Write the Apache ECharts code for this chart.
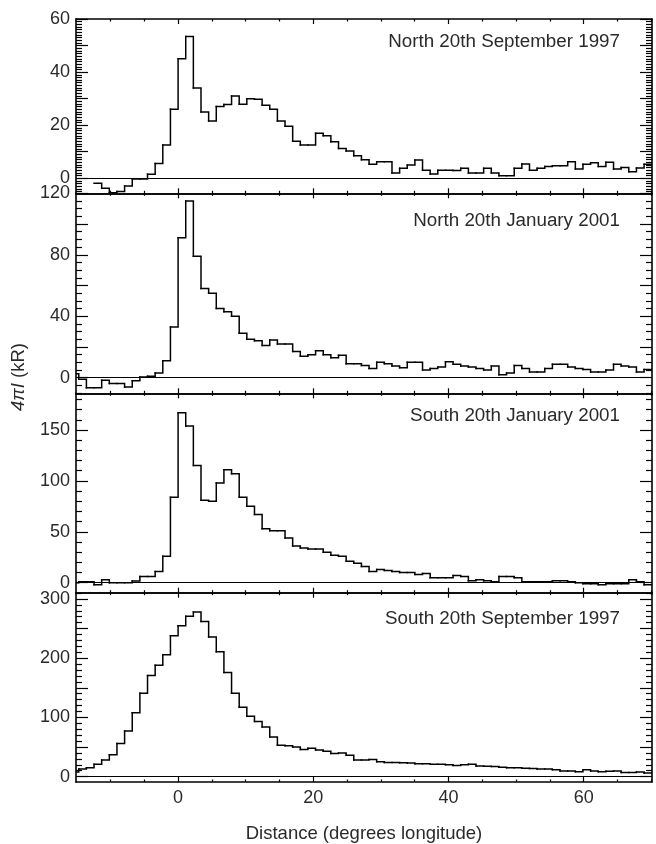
<!DOCTYPE html>
<html><head><meta charset="utf-8">
<script src="https://cdn.jsdelivr.net/npm/echarts@6/dist/echarts.min.js"></script>
<style>html,body{margin:0;padding:0;background:#fff}#c{width:656px;height:844px}</style>
</head><body><div id="c"></div>
<script>
// ---- data ----
const binWidth = 1.13;          // degrees longitude per bin
const firstBin = -14;           // index of the first bin (left edge = firstBin*binWidth)
const panelTitles = ['North 20th September 1997','North 20th January 2001','South 20th January 2001','South 20th September 1997'];
const xTickLabels = [0, 20, 40, 60];
const xMinorTicks = [-10, -5, 5, 10, 15, 25, 30, 35, 45, 50, 55, 65, 70];
const yTickLabels = [[0, 20, 40, 60], [0, 40, 80, 120], [0, 50, 100, 150], [0, 100, 200, 300]];
const yMajorStep = [10, 20, 50, 50];
const yMinorStep = [1, 5, 10, 10];
const yMin = [-5.65, -10.15, -9.8, -9];
const yMax = [60, 120, 186, 310.6];

const northSep1997 = [null, null, null, -1.9, -3.75, -5.4, -5, -2.9, -0.25, -0.25, 1.5, 5.6, 12.5, 26,
  45, 53.4, 34, 25, 21.6, 27, 27.75, 31, 27.9, 30, 29.75, 27.5, 26, 21.6, 19.6, 14, 12.5, 12.5, 17, 16,
  13.75, 11.25, 10.25, 8.5, 7, 5.25, 6.25, 6.25, 2, 3.75, 5, 6.9, 3, 1.6, 3, 3, 2.9, 3.75, 2, 2, 3.75, 2,
  1, 1, 3.75, 5.4, 3, 3.75, 4.4, 4.75, 4.75, 6.25, 3.5, 5.25, 5.9, 4.4, 6, 3.5, 4.1, 2.5, 3.9, 5.25];
const northJan2001 = [2.6, -1, -6.5, -6.5, -1.7, -3.7, -3.7, -6, -2, 0.4, 1, 3, 11, 33,
  91, 115, 79, 58, 55, 45, 43, 40, 29, 25, 24, 21, 24.6, 22, 22, 17, 14, 15, 17.6, 15,
  13, 14.6, 9, 9, 8, 6, 10, 9, 7.6, 6.5, 10, 10, 5, 6, 7, 10.4, 8.7, 7.6, 7, 6, 5, 7.6,
  2, 3, 8, 6, 3.7, 3.7, 6, 8.7, 8.7, 7, 6, 5.4, 3.7, 3.7, 5, 8.7, 7.6, 7, 3.7, 5.4];
const southJan2001 = [0, 1, 1, -2, 3, 0, 0, 0, 1.6, 6, 6, 11, 26, 84,
  167, 154, 115, 81, 80, 98, 111, 107, 84, 75, 67, 53, 51, 51, 44, 36, 34, 33, 33, 30,
  27, 26, 21, 19, 16, 11, 13, 12, 11, 10, 10, 8, 9, 5, 5, 5, 7, 6, 2, 3, 2, 1,
  6, 6, 5, 1, 1, 1, 1, 2, 2, 1, 0, -1, -1, -2, -1, -1, -1, 3, 1, -2];
const southSep1997 = [8, 13, 15, 21, 28, 37, 56, 77, 108, 141, 171, 188, 206, 238,
  255, 271, 278, 262, 236, 211, 176, 141, 117, 102, 93, 84, 67, 53, 52, 50, 46, 48, 45, 43,
  39, 40, 36, 28, 28, 29, 25, 24, 24, 23.5, 23, 22, 22, 21, 21, 20, 19, 20, 21, 18, 17.6, 17,
  16, 15, 15, 14.4, 14, 13, 12.8, 11.7, 9.6, 9.6, 8.5, 11.7, 9.6, 8.5, 9, 9.6, 7, 7, 8, 6.4];
const panelData = [northSep1997, northJan2001, southJan2001, southSep1997];

// ---- layout ----
const W = 656;
const plotLeft = 76, plotRight = 652;
const grids = [
  {top: 19, height: 174.3, titleY: 41.7},
  {top: 193.3, height: 200, titleY: 221},
  {top: 393.3, height: 199.4, titleY: 416},
  {top: 592.7, height: 199.6, titleY: 619}
];
const xMin = -15.1, xMax = 70.1;
const FONT = 'Liberation Sans, Arial, Helvetica, sans-serif';
const TXT = '#2a2a2a';
const FS = 18;
const FS_TITLE = 18.8;

function range(a, b, s) { const out = []; for (let v = a; v <= b + 1e-9; v += s) out.push(Math.round(v * 1000) / 1000); return out; }

// one item per bin: [left edge, right edge, value, value of next bin]
function stepItems(vals) {
  const items = [];
  for (let i = 0; i < vals.length; i++) {
    const v = vals[i];
    if (v === null) continue;
    const nxt = (i + 1 < vals.length && vals[i + 1] !== null) ? vals[i + 1] : v;
    items.push([(firstBin + i) * binWidth, (firstBin + i + 1) * binWidth, v, nxt]);
  }
  return items;
}

function renderStep(params, api) {
  const y = api.value(2), yn = api.value(3);
  const a = api.coord([api.value(0), y]);
  const b = api.coord([api.value(1), y]);
  const c = api.coord([api.value(1), yn]);
  return {
    type: 'polyline',
    shape: {points: [a, b, c]},
    style: {stroke: '#000', lineWidth: 1.5, fill: null, lineCap: 'square', lineJoin: 'miter'}
  };
}

const option = {
  animation: false,
  backgroundColor: '#fff',
  title: [], grid: [], xAxis: [], yAxis: [], series: [],
  graphic: [{
    type: 'text', x: 19, y: 377, rotation: Math.PI / 2,
    style: {
      text: '{i|4πI} (kR)', font: '18.5px ' + FONT, fill: TXT, align: 'center', verticalAlign: 'middle',
      rich: {i: {fontStyle: 'italic', fontSize: 18.5, fontFamily: FONT, fill: TXT}}
    }
  }]
};

grids.forEach((g, p) => {
  option.grid.push({left: plotLeft, right: W - plotRight, top: g.top, height: g.height, containLabel: false});
  const isBottom = p === 3;
  const lineStyle = {color: '#000', width: 1.6};
  const tickStyle = {color: '#000', width: 1.2};
  [['bottom', xTickLabels, 5, true], ['bottom', xMinorTicks, 2.5, false], ['top', xTickLabels, 5, true], ['top', xMinorTicks, 2.5, false]]
    .forEach(([pos, ticks, len, major]) => {
      const showLab = isBottom && pos === 'bottom' && major;
      option.xAxis.push({
        type: 'value', gridIndex: p, position: pos, min: xMin, max: xMax,
        splitLine: {show: false},
        axisLine: {show: major, onZero: false, lineStyle},
        axisTick: {show: true, inside: true, length: len, customValues: ticks, lineStyle: tickStyle},
        axisLabel: {show: showLab, customValues: xTickLabels, margin: 7, fontFamily: FONT, fontSize: FS, color: TXT},
        name: showLab ? 'Distance (degrees longitude)' : '',
        nameLocation: 'middle', nameGap: 42,
        nameTextStyle: {fontFamily: FONT, fontSize: 18.5, color: TXT}
      });
    });
  const majors = range(0, yMax[p], yMajorStep[p]);
  const minors = range(Math.ceil(yMin[p] / yMinorStep[p]) * yMinorStep[p], yMax[p], yMinorStep[p])
    .filter(v => majors.indexOf(v) < 0);
  [['left', majors, 12, true], ['left', minors, 6, false], ['right', majors, 12, true], ['right', minors, 6, false]]
    .forEach(([pos, ticks, len, major]) => {
      const showLab = pos === 'left' && major;
      option.yAxis.push({
        type: 'value', gridIndex: p, position: pos, min: yMin[p], max: yMax[p],
        splitLine: {show: false},
        axisLine: {show: major, onZero: false, lineStyle},
        axisTick: {show: true, inside: true, length: len, customValues: ticks, lineStyle: tickStyle},
        axisLabel: {show: showLab, customValues: yTickLabels[p], margin: 6, fontFamily: FONT, fontSize: FS, color: TXT}
      });
    });
  option.title.push({
    text: panelTitles[p], right: W - 620, top: g.titleY - FS_TITLE / 2, padding: 0,
    textStyle: {fontFamily: FONT, fontSize: FS_TITLE, fontWeight: 'normal', color: TXT, lineHeight: FS_TITLE}
  });
  option.series.push({
    type: 'custom', xAxisIndex: p * 4, yAxisIndex: p * 4, clip: true, silent: true,
    encode: {x: [0, 1], y: [2, 3]},
    renderItem: renderStep,
    data: stepItems(panelData[p]),
    markLine: {
      silent: true, symbol: 'none', label: {show: false},
      lineStyle: {color: '#000', width: 1.2, type: 'solid'},
      data: [{yAxis: 0}]
    }
  });
});

const chart = echarts.init(document.getElementById('c'), null, {renderer: 'canvas'});
chart.setOption(option);
</script></body></html>
